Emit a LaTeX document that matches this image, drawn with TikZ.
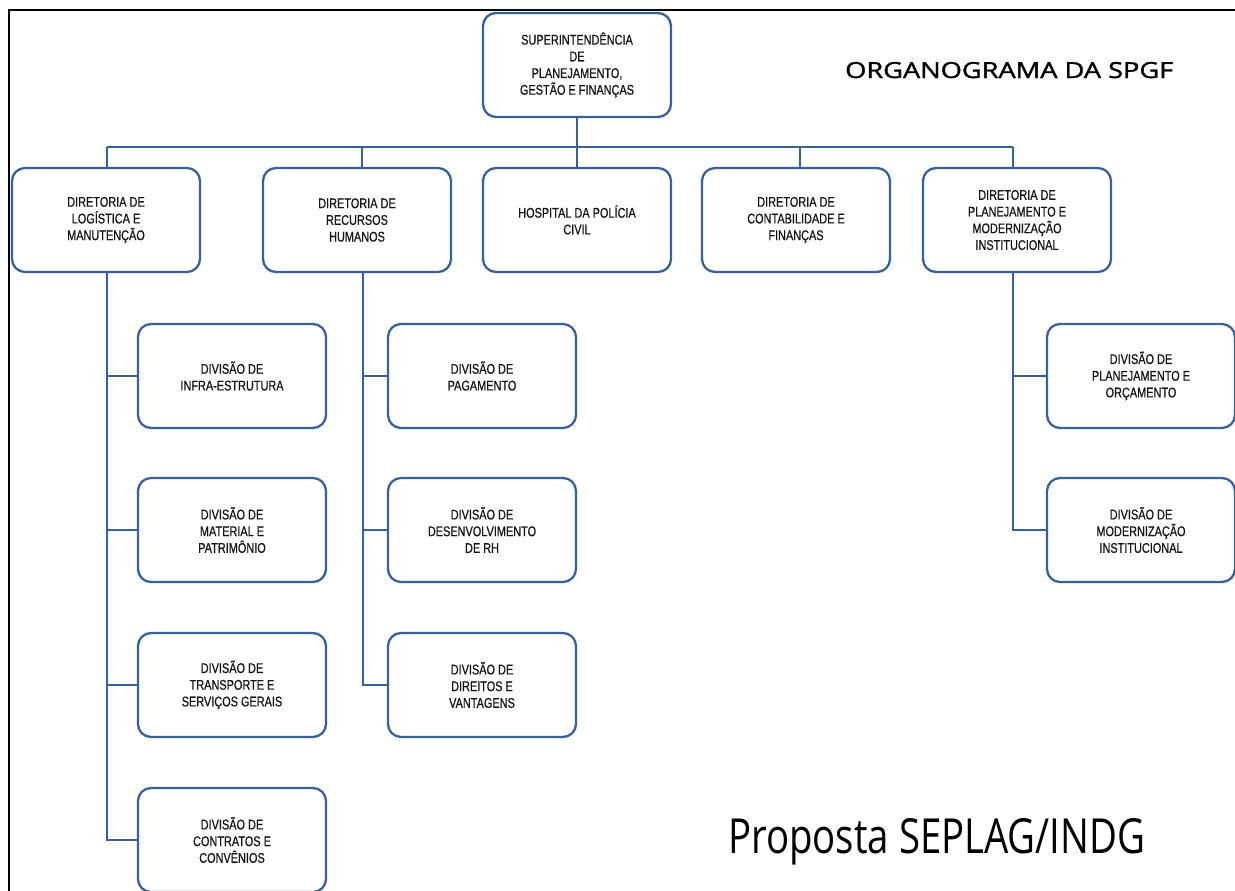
\documentclass[tikz,border=0pt]{standalone}
\usepackage{fontspec}
\setmainfont{Liberation Sans}
\newfontfamily\boxfont[FakeStretch=0.78,FakeBold=0.6]{Liberation Sans}
\newfontfamily\titlefont{Open Sans}
\newfontfamily\titleboldfont[FakeBold=1.4]{Open Sans}
\definecolor{boxblue}{RGB}{58,96,156}
\definecolor{txtgray}{RGB}{20,20,20}
\tikzset{
  orgbox/.style={draw=boxblue, line width=2.3pt, rounded corners=13pt, fill=white,
    minimum width=188pt, minimum height=104pt, inner sep=0pt, align=center,
    text=txtgray, font=\boxfont\fontsize{14}{16.7}\selectfont},
  link/.style={draw=boxblue, line width=2.3pt},
  frameline/.style={draw=black, line width=2pt}
}
\begin{document}
\begin{tikzpicture}[x=1pt, y=-1pt]
\useasboundingbox (0,0) rectangle (1235,891);
\draw[frameline] (9,891) -- (9,10) -- (1235,10);

% top
\node[orgbox] (sup) at (577,65) {SUPERINTENDÊNCIA\\DE\\PLANEJAMENTO,\\GESTÃO E FINANÇAS};

% directorates
\node[orgbox] (d1) at (106,220) {DIRETORIA DE\\LOGÍSTICA E\\MANUTENÇÃO};
\node[orgbox] (d2) at (357,220) {DIRETORIA DE\\RECURSOS\\HUMANOS};
\node[orgbox] (d3) at (577,220) {HOSPITAL DA POLÍCIA\\CIVIL};
\node[orgbox] (d4) at (796,220) {DIRETORIA DE\\CONTABILIDADE E\\FINANÇAS};
\node[orgbox] (d5) at (1017,220) {DIRETORIA DE\\PLANEJAMENTO E\\MODERNIZAÇÃO\\INSTITUCIONAL};

% divisions of d1
\node[orgbox] (a1) at (232,376) {DIVISÃO DE\\INFRA-ESTRUTURA};
\node[orgbox] (a2) at (232,530) {DIVISÃO DE\\MATERIAL E\\PATRIMÔNIO};
\node[orgbox] (a3) at (232,685) {DIVISÃO DE\\TRANSPORTE E\\SERVIÇOS GERAIS};
\node[orgbox] (a4) at (232,840) {DIVISÃO DE\\CONTRATOS E\\CONVÊNIOS};

% divisions of d2
\node[orgbox] (b1) at (482,376) {DIVISÃO DE\\PAGAMENTO};
\node[orgbox] (b2) at (482,530) {DIVISÃO DE\\DESENVOLVIMENTO\\DE RH};
\node[orgbox] (b3) at (482,685) {DIVISÃO DE\\DIREITOS E\\VANTAGENS};

% divisions of d5
\node[orgbox] (e1) at (1141,376) {DIVISÃO DE\\PLANEJAMENTO E\\ORÇAMENTO};
\node[orgbox] (e2) at (1141,530) {DIVISÃO DE\\MODERNIZAÇÃO\\INSTITUCIONAL};

% bus
\coordinate (bus) at (577,147);
\coordinate (busL) at (107,147);
\coordinate (busR) at (1013,147);
\coordinate (c1) at (107,272);
\coordinate (c2) at (363,272);
\coordinate (c5) at (1013,272);
\draw[link] (sup.south) -- (bus);
\draw[link] (busL) -- (busR);
\draw[link] (busL) -- (busL |- d1.north);
\draw[link] (362,147) -- (362,168);
\draw[link] (bus) -- (d3.north);
\draw[link] (800,147) -- (800,168);
\draw[link] (busR) -- (busR |- d5.north);

% d1 column
\draw[link] (c1) -- (c1 |- a4.west) -- (a4.west);
\draw[link] (c1 |- a1.west) -- (a1.west);
\draw[link] (c1 |- a2.west) -- (a2.west);
\draw[link] (c1 |- a3.west) -- (a3.west);

% d2 column
\draw[link] (c2) -- (c2 |- b3.west) -- (b3.west);
\draw[link] (c2 |- b1.west) -- (b1.west);
\draw[link] (c2 |- b2.west) -- (b2.west);

% d5 column
\draw[link] (c5) -- (c5 |- e2.west) -- (e2.west);
\draw[link] (c5 |- e1.west) -- (e1.west);

% titles
\node[anchor=base west, inner sep=0pt] (t1) at (845,78) {\resizebox{328pt}{16pt}{\titleboldfont ORGANOGRAMA DA SPGF}};
\node[anchor=base west, inner sep=0pt] (t2) at (728,853) {\resizebox{417pt}{35pt}{\titlefont Proposta SEPLAG/INDG}};
\end{tikzpicture}
\end{document}
